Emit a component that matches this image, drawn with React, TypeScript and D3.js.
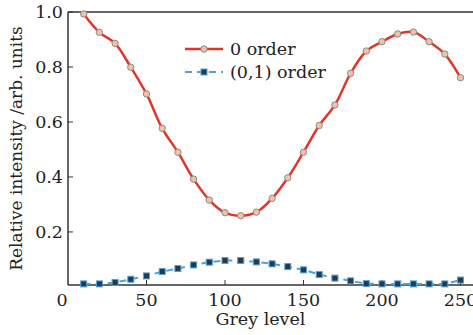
import React from "react";
import * as d3 from "d3";

const greyLevels = [10, 20, 30, 40, 50, 60, 70, 80, 90, 100, 110, 120, 130, 140, 150, 160, 170, 180, 190, 200, 210, 220, 230, 240, 250];
const order0 = [0.993, 0.926, 0.886, 0.799, 0.702, 0.577, 0.49, 0.392, 0.316, 0.27, 0.259, 0.272, 0.322, 0.397, 0.49, 0.587, 0.662, 0.777, 0.858, 0.892, 0.92, 0.927, 0.892, 0.847, 0.761];
const order01 = [0.011, 0.011, 0.016, 0.028, 0.04, 0.056, 0.067, 0.08, 0.09, 0.096, 0.096, 0.091, 0.084, 0.074, 0.062, 0.045, 0.032, 0.022, 0.012, 0.011, 0.011, 0.011, 0.011, 0.011, 0.025];
const xTicks = [0, 50, 100, 150, 200, 250];
const yTicks = [0.2, 0.4, 0.6, 0.8, 1.0];
const seriesNames = ["0 order", "(0,1) order"];

const W = 473;
const H = 335;
const L = 68;
const T = 12;
const B = 285;
const FONT = "DejaVu Serif";

export default function App() {
  const x = d3.scaleLinear().domain([0, 250]).range([L, 460.5]);
  const y = d3.scaleLinear().domain([0.007, 1.0]).range([B, T]);
  const red = "#e3352b";
  const blue = "#4ea3dc";

  const lineRed = d3
    .line<number>()
    .x((_, i) => x(greyLevels[i]))
    .y((d) => y(d))
    .curve(d3.curveCatmullRom.alpha(0.5));
  const lineBlue = d3
    .line<number>()
    .x((_, i) => x(greyLevels[i]))
    .y((d) => y(d));

  return (
    <svg
      width={W}
      height={H}
      style={{ position: "absolute", left: 0, top: 0, background: "#fff" }}
      fontFamily={FONT}
    >
      <rect x={0} y={0} width={W} height={H} fill="#fff" />
      <line x1={L} y1={T} x2={W} y2={T} stroke="#333" strokeWidth={1.5} />
      <line x1={L} y1={T} x2={L} y2={B} stroke="#333" strokeWidth={1.5} />
      <line x1={L} y1={B} x2={W} y2={B} stroke="#333" strokeWidth={1.5} />

      {yTicks.map((t) => (
        <g key={"y" + t}>
          <line x1={L} x2={L + 5} y1={y(t)} y2={y(t)} stroke="#333" strokeWidth={1} />
          <text x={L - 5} y={y(t)} textAnchor="end" dominantBaseline="central" fontSize={17.5} fill="#222">
            {t.toFixed(1)}
          </text>
        </g>
      ))}
      {xTicks.map((t) => (
        <g key={"x" + t}>
          {t > 0 && <line x1={x(t)} x2={x(t)} y1={B} y2={B - 5} stroke="#333" strokeWidth={1} />}
          <text x={t === 0 ? x(t) - 6 : x(t)} y={B + 21} textAnchor="middle" fontSize={17.5} fill="#222">
            {t}
          </text>
        </g>
      ))}
      <text x={(L + W) / 2 - 10} y={325} textAnchor="middle" fontSize={17.5} fill="#222">
        Grey level
      </text>
      <text
        transform={`translate(22,${(T + B) / 2}) rotate(-90)`}
        textAnchor="middle"
        fontSize={17}
        fill="#222"
      >
        Relative intensity /arb. units
      </text>

      <path d={lineBlue(order01) || ""} fill="none" stroke={blue} strokeWidth={2} strokeDasharray="7,5" />
      {order01.map((v, i) => (
        <rect
          key={"b" + i}
          x={x(greyLevels[i]) - 3}
          y={y(v) - 3}
          width={6}
          height={6}
          fill="#243a4e"
          stroke={blue}
          strokeWidth={1}
        />
      ))}
      <path d={lineRed(order0) || ""} fill="none" stroke={red} strokeWidth={2.5} />
      {order0.map((v, i) => (
        <circle
          key={"r" + i}
          cx={x(greyLevels[i])}
          cy={y(v)}
          r={3.2}
          fill="#eec4a8"
          stroke="#8a8a8a"
          strokeWidth={1}
        />
      ))}

      <line x1={185} x2={223} y1={49} y2={49} stroke={red} strokeWidth={2.5} />
      <circle cx={204} cy={49} r={3.2} fill="#eec4a8" stroke="#8a8a8a" strokeWidth={1} />
      <text x={230} y={49} dominantBaseline="central" fontSize={17.5} fill="#222">
        {seriesNames[0]}
      </text>
      <line x1={185} x2={223} y1={72} y2={72} stroke={blue} strokeWidth={2} strokeDasharray="7,5" />
      <rect x={201} y={69} width={6} height={6} fill="#243a4e" stroke={blue} strokeWidth={1} />
      <text x={230} y={72} dominantBaseline="central" fontSize={17.5} fill="#222">
        {seriesNames[1]}
      </text>
    </svg>
  );
}
